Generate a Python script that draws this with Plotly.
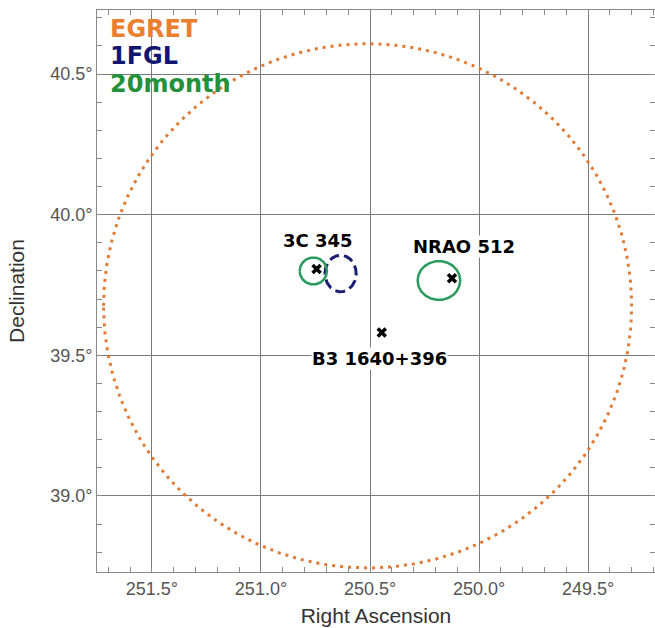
import numpy as np
import plotly.graph_objects as go

# Radio sources (RA, Dec in degrees)
src_names = ["3C 345", "NRAO 512", "B3 1640+396"]
src_ra = [250.745, 250.124, 250.446]
src_dec = [39.807, 39.774, 39.581]
label_dx = [1, 12, -2]      # label offsets in px
label_dy = [29, 32, -26]

# Gamma-ray localisation regions: centre, semi-axes on the sky (deg)
reg_names = ["EGRET", "1FGL", "20month", "20month"]
reg_ra = [250.511, 250.635, 250.760, 250.184]
reg_dec = [39.676, 39.791, 39.800, 39.766]
reg_a = [0.932, 0.055, 0.048, 0.075]   # along RA
reg_b = [0.932, 0.065, 0.048, 0.069]   # along Dec

colors = {"EGRET": "#E27A35", "1FGL": "#1B1F74", "20month": "#2A9A5E"}
text_colors = {"EGRET": "#EB7F30", "1FGL": "#121670", "20month": "#23903A"}
dashes = {"EGRET": "3px,5px", "1FGL": "10px,5px", "20month": "solid"}
widths = {"EGRET": 3, "1FGL": 3, "20month": 2.5}

x_range = [251.752, 249.193]
y_range = [38.7295, 40.728]
ra_ticks = [251.5, 251.0, 250.5, 250.0, 249.5]
dec_ticks = [39.0, 39.5, 40.0, 40.5]
ra_labels = [f"{v:.1f}°" for v in ra_ticks]
dec_labels = [f"{v:.1f}°" for v in dec_ticks]

fig = go.Figure()

t = np.linspace(0, 2 * np.pi, 361)
for name, ra0, dec0, a, b in zip(reg_names, reg_ra, reg_dec, reg_a, reg_b):
    cosd = np.cos(np.radians(dec0))
    fig.add_trace(go.Scatter(
        x=ra0 + a * np.cos(t) / cosd,
        y=dec0 + b * np.sin(t),
        mode="lines",
        line=dict(color=colors[name], width=widths[name], dash=dashes[name]),
        hoverinfo="skip", showlegend=False,
    ))

fig.add_trace(go.Scatter(
    x=src_ra, y=src_dec, mode="markers", text=src_names,
    marker=dict(symbol="x-thin", size=8, line=dict(color="black", width=3.5)),
    showlegend=False,
))

for name, ra, dec, dx, dy in zip(src_names, src_ra, src_dec, label_dx, label_dy):
    fig.add_annotation(
        x=ra, y=dec, xref="x", yref="y", text=name, showarrow=False,
        xshift=dx, yshift=dy, bgcolor="white", borderpad=0,
        font=dict(family="DejaVu Sans", size=18, color="black", weight="bold"),
    )

# Colour-coded catalogue key in the upper-left corner
for i, name in enumerate(["EGRET", "1FGL", "20month"]):
    fig.add_annotation(
        x=0.019, y=0.966 - i * 0.0485, xref="paper", yref="paper",
        xanchor="left", yanchor="middle", text=name, showarrow=False,
        font=dict(family="DejaVu Sans", size=24, color=text_colors[name], weight="bold"),
    )

axis_common = dict(
    showgrid=True, gridcolor="#7a7a7a", gridwidth=1,
    showline=True, linecolor="#8a8a8a", linewidth=1, mirror="ticks",
    ticks="inside", ticklen=5, tickcolor="#8a8a8a",
    tickfont=dict(family="Liberation Sans", size=18, color="#555555"),
    zeroline=False,
    minor=dict(dtick=0.1, ticks="inside", ticklen=5, tickcolor="#8a8a8a", showgrid=False),
)

fig.update_xaxes(
    range=x_range, tickvals=ra_ticks, ticktext=ra_labels, **axis_common,
    title=dict(text="Right Ascension", standoff=10,
               font=dict(family="Liberation Sans", size=21, color="#333333")),
)
fig.update_yaxes(
    range=y_range, tickvals=dec_ticks, ticktext=dec_labels, **axis_common,
    title=dict(text="Declination", standoff=19,
               font=dict(family="Liberation Sans", size=21, color="#333333")),
)

fig.update_layout(
    width=655, height=628,
    margin=dict(l=97, r=0, t=10, b=56),
    plot_bgcolor="white", paper_bgcolor="white",
)

fig.write_html("out.html")
